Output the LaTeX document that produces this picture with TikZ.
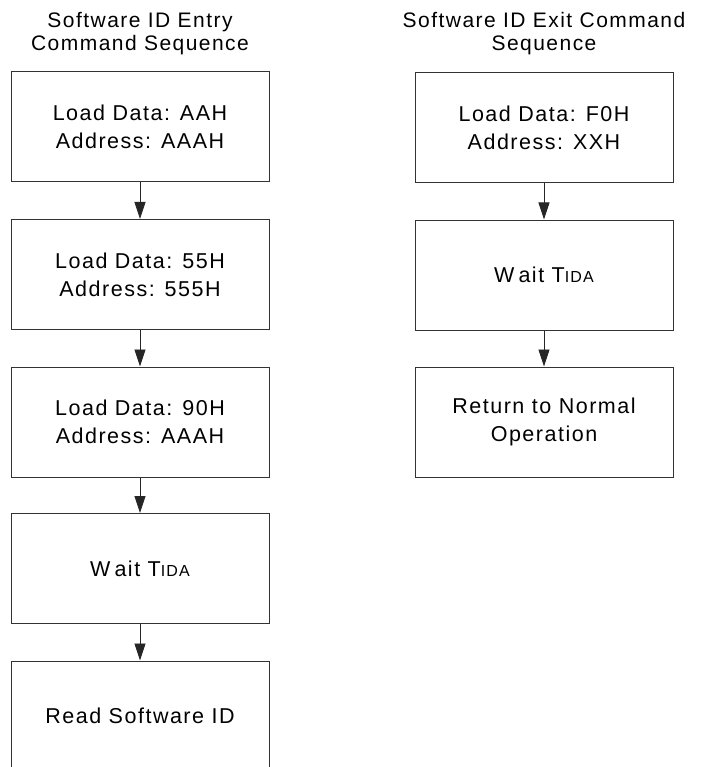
\documentclass[tikz,border=0pt]{standalone}
\usepackage{fontspec}
\setmainfont[LetterSpace=7]{Liberation Sans}
\usetikzlibrary{arrows.meta}
\begin{document}
\begin{tikzpicture}[x=1pt,y=-1pt,
  stepbox/.style={draw=black!80, line width=1pt, minimum width=258pt, minimum height=110pt,
    inner sep=0pt, align=center, font=\fontsize{21.5}{28}\selectfont},
  titletext/.style={align=center, font=\fontsize{21}{23}\selectfont, inner sep=0pt},
  flow/.style={draw=black!85, line width=0.8pt, -{Triangle[length=17pt,width=11pt]}}]
\useasboundingbox (0,0) rectangle (709,767);
\clip (0,0) rectangle (709,767);
\fill[white] (0,0) rectangle (709,767);
% titles
\node[titletext, anchor=base] (t1a) at (140,28) {Software ID Entry};
\node[titletext, anchor=base] (t1b) at (140,51) {Command Sequence};
\node[titletext, anchor=base] (t2a) at (544,28) {Software ID Exit Command};
\node[titletext, anchor=base] (t2b) at (544,51) {Sequence};
% left column
\node[stepbox] (l1) at (140,127) {Load Data: AAH\\Address: AAAH};
\node[stepbox] (l2) at (140,274.5) {Load Data: 55H\\Address: 555H};
\node[stepbox] (l3) at (140,422) {Load Data: 90H\\Address: AAAH};
\node[stepbox] (l4) at (140,568.5) {W\hspace{4pt}ait T{\fontsize{16}{16}\selectfont IDA}};
\node[stepbox] (l5) at (140,716) {Read Software ID};
% right column
\node[stepbox] (r1) at (544,127.5) {Load Data: F0H\\Address: XXH};
\node[stepbox] (r2) at (544,275) {W\hspace{4pt}ait T{\fontsize{16}{16}\selectfont IDA}};
\node[stepbox] (r3) at (544,422) {Return to Normal\\Operation};
% connectors
\draw[flow] (l1) -- (l2);
\draw[flow] (l2) -- (l3);
\draw[flow] (l3) -- (l4);
\draw[flow] (l4) -- (l5);
\draw[flow] (r1) -- (r2);
\draw[flow] (r2) -- (r3);
\end{tikzpicture}
\end{document}
